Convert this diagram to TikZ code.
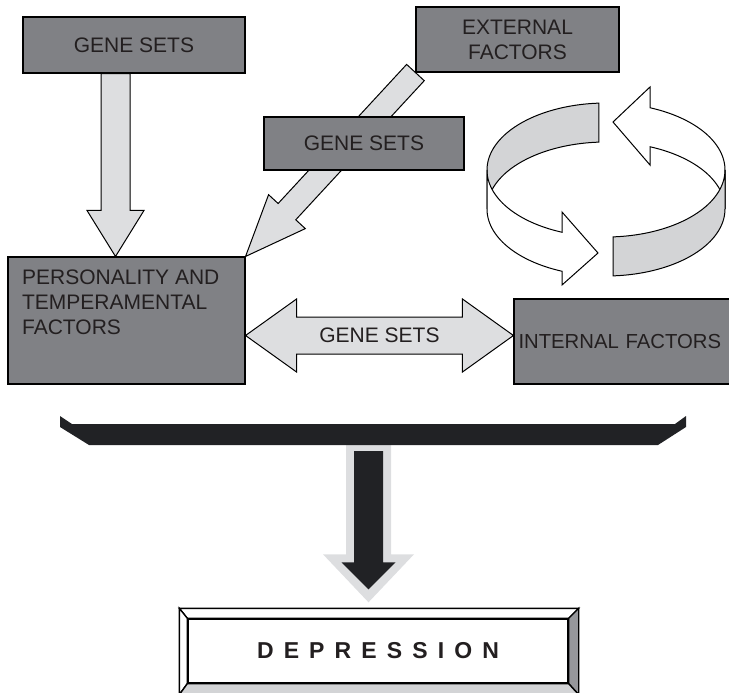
\documentclass[tikz,border=0pt]{standalone}
\usepackage{fontspec}
\setmainfont{Liberation Sans}
\usepackage{tikz}
\usetikzlibrary{calc}
\definecolor{boxgrey}{RGB}{128,129,133}
\definecolor{arrowgrey}{RGB}{221,222,224}
\definecolor{ringgrey}{RGB}{211,212,214}
\definecolor{barblack}{RGB}{33,34,37}
\definecolor{bevelgrey}{RGB}{150,151,155}
\definecolor{bevellight}{RGB}{211,212,214}
\definecolor{ink}{RGB}{35,31,32}
% block arrow: [style]{from}{to}{half shaft}{half head}{head length}
\newcommand{\blockarrow}[6][]{%
  \coordinate (ba-h) at ($(#3)!#6!(#2)$);
  \path[#1] ($(#2)!#4!90:(#3)$) -- ($(ba-h)!#4!90:(#3)$) -- ($(ba-h)!#5!90:(#3)$)
    -- (#3) -- ($(ba-h)!#5!-90:(#3)$) -- ($(ba-h)!#4!-90:(#3)$) -- ($(#2)!#4!-90:(#3)$) -- cycle;}
% double block arrow, same arguments
\newcommand{\dblarrow}[6][]{%
  \coordinate (da-l) at ($(#2)!#6!(#3)$);
  \coordinate (da-r) at ($(#3)!#6!(#2)$);
  \path[#1] (#2) -- ($(da-l)!#5!90:(#3)$) -- ($(da-l)!#4!90:(#3)$) -- ($(da-r)!#4!90:(#3)$)
    -- ($(da-r)!#5!90:(#3)$) -- (#3) -- ($(da-r)!#5!-90:(#3)$) -- ($(da-r)!#4!-90:(#3)$)
    -- ($(da-l)!#4!-90:(#3)$) -- ($(da-l)!#5!-90:(#3)$) -- cycle;}
\begin{document}
\begin{tikzpicture}[x=1pt,y=-1pt,font=\fontsize{21}{25}\selectfont,
  box/.style={draw,line width=1.1pt,fill=boxgrey,text=ink,inner sep=0pt},
  fat/.style={draw,line width=1pt,fill=arrowgrey},
  ring/.style={draw,line width=1pt,samples=40},
  bevel/.style={draw,line width=1.4pt,line join=miter}]
  \useasboundingbox (0,0) rectangle (729,693);
  \clip (0,0) rectangle (729,693);
  % boxes
  \node[box,minimum width=222pt,minimum height=56pt] (g1) at (134,45) {GENE SETS};
  \node[box,minimum width=203pt,minimum height=65pt,align=center] (ext) at (517.5,39.5) {EXTERNAL\\FACTORS};
  \node[box,minimum width=237pt,minimum height=127pt] (pers) at (126.5,320.5) {};
  \node[anchor=north west,align=left,text=ink,inner sep=0pt] (perstxt) at ([shift={(14.5pt,-13.5pt)}]pers.north west) {PERSONALITY AND\\TEMPERAMENTAL\\FACTORS};
  \node[box,minimum width=246pt,minimum height=85pt,text width=237pt,align=left,
    font=\fontsize{20.3}{25}\selectfont] (intern) at (637,341.5) {INTERNAL FACTORS};
  % gene sets into personality
  \coordinate (g1out) at ([xshift=-18.5pt]g1.south);
  \coordinate (g1in) at (g1out |- pers.north);
  \blockarrow[fat]{g1out}{g1in}{14.5pt}{28.5pt}{46pt}
  \blockarrow[fat]{ext.south west}{pers.north east}{12pt}{25pt}{61pt}
  \node[box,minimum width=200pt,minimum height=53pt] (gs2) at (364,143.5) {GENE SETS};
  % personality <-> internal
  \coordinate (dl) at ([yshift=-15pt]pers.east);
  \coordinate (dr) at (intern.west |- dl);
  \dblarrow[fat]{dl}{dr}{18.5pt}{36.5pt}{51pt}
  \node[text=ink] (gs3) at ($(dl)!0.5!(dr)$) {GENE SETS};
  % the ring, back half first
  \draw[ring,fill=ringgrey] plot[domain=180:266.6] ({606+119*cos(\x)},{170+67*sin(\x)})
    -- plot[domain=266.6:180] ({606+119*cos(\x)},{209+67*sin(\x)}) -- cycle;
  \draw[ring,fill=white] plot[domain=291.7:360] ({606+119*cos(\x)},{170+67*sin(\x)})
    -- plot[domain=360:291.7] ({606+119*cos(\x)},{209+67*sin(\x)})
    -- (650,165) -- (613,122) -- (650,87) -- cycle;
  \draw[ring,fill=white] plot[domain=180:111.7] ({606+119*cos(\x)},{170+67*sin(\x)})
    -- (562,212) -- (598,253) -- (562,285)
    -- plot[domain=111.7:180] ({606+119*cos(\x)},{209+67*sin(\x)}) -- cycle;
  \draw[ring,fill=ringgrey] plot[domain=86.6:0] ({606+119*cos(\x)},{170+67*sin(\x)})
    -- plot[domain=0:86.6] ({606+119*cos(\x)},{209+67*sin(\x)}) -- cycle;
  % depression
  \node[draw,line width=1.4pt,fill=white,text=ink,minimum width=380pt,minimum height=64pt,inner sep=0pt,
    font=\fontsize{23}{28}\selectfont\bfseries\addfontfeature{LetterSpace=44}] (dep) at (378,651) {DEPRESSION};
  \coordinate (dep1) at ([shift={(-8pt,10pt)}]dep.north west);
  \coordinate (dep2) at ([shift={(10pt,10pt)}]dep.north east);
  \coordinate (dep3) at ([shift={(10pt,-11pt)}]dep.south east);
  \coordinate (dep4) at ([shift={(-8pt,-11pt)}]dep.south west);
  \draw[bevel,fill=white] (dep1) -- (dep2) -- (dep.north east) -- (dep.north west) -- cycle;
  \draw[bevel,fill=white] (dep1) -- (dep.north west) -- (dep.south west) -- (dep4) -- cycle;
  \draw[bevel,fill=bevelgrey] (dep2) -- (dep3) -- (dep.south east) -- (dep.north east) -- cycle;
  \draw[bevel,fill=bevellight] (dep4) -- (dep.south west) -- (dep.south east) -- (dep3) -- cycle;
  % dark arrow down
  \coordinate (barmid) at (368.5,443);
  \coordinate (depin) at ([yshift=16pt]dep.north);
  \coordinate (deptip) at (barmid |- depin);
  \blockarrow[fill=arrowgrey]{barmid}{deptip}{22.5pt}{45.5pt}{48pt}
  \coordinate (barin) at ([yshift=-8pt]barmid);
  \coordinate (deptipin) at ([yshift=13pt]deptip);
  \blockarrow[fill=barblack]{barin}{deptipin}{14.5pt}{27pt}{27pt}
  % bracket
  \fill[barblack] (60,416) -- (72,424) -- (675,424) -- (686,416) -- (686,427) -- (658,445) -- (89,445) -- (60,427) -- cycle;
\end{tikzpicture}
\end{document}
